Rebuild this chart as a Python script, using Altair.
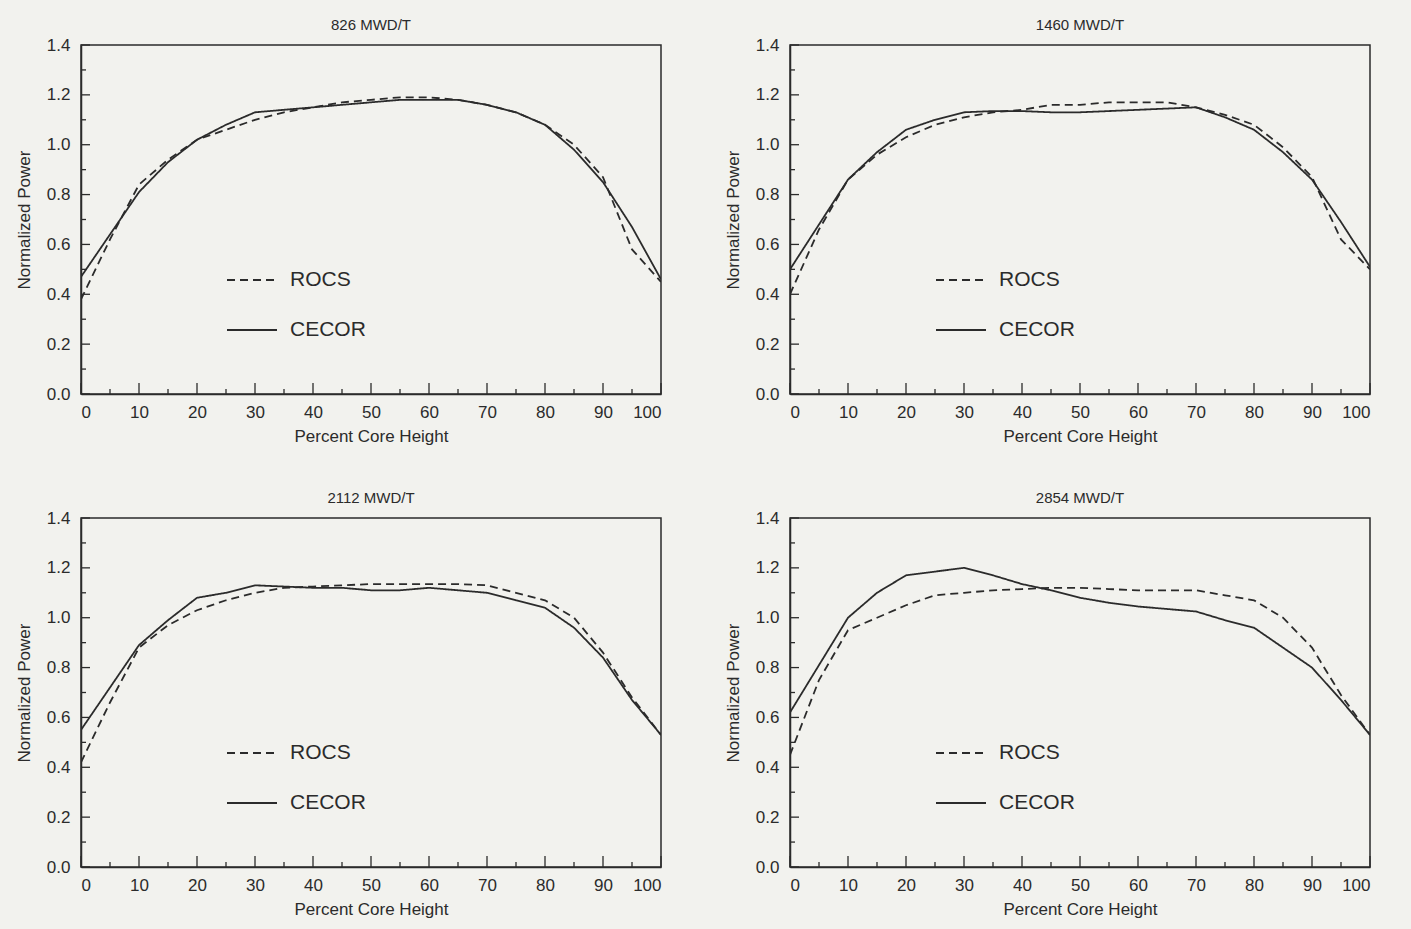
import altair as alt
import pandas as pd

# ---- data ----
heights = [0, 5, 10, 15, 20, 25, 30, 35, 40, 45, 50, 55, 60, 65, 70, 75, 80, 85, 90, 95, 100]

rocs_826 = [0.38, 0.62, 0.84, 0.94, 1.02, 1.06, 1.10, 1.13, 1.15, 1.17, 1.18, 1.19, 1.19, 1.18, 1.16, 1.13, 1.08, 1.00, 0.87, 0.58, 0.45]
cecor_826 = [0.47, 0.64, 0.81, 0.93, 1.02, 1.08, 1.13, 1.14, 1.15, 1.16, 1.17, 1.18, 1.18, 1.18, 1.16, 1.13, 1.08, 0.98, 0.85, 0.67, 0.46]

rocs_1460 = [0.40, 0.66, 0.86, 0.96, 1.03, 1.08, 1.11, 1.13, 1.14, 1.16, 1.16, 1.17, 1.17, 1.17, 1.15, 1.12, 1.08, 0.99, 0.87, 0.62, 0.50]
cecor_1460 = [0.50, 0.68, 0.86, 0.97, 1.06, 1.10, 1.13, 1.135, 1.135, 1.13, 1.13, 1.135, 1.14, 1.145, 1.15, 1.11, 1.06, 0.97, 0.86, 0.69, 0.51]

rocs_2112 = [0.42, 0.66, 0.88, 0.97, 1.03, 1.07, 1.10, 1.12, 1.125, 1.13, 1.135, 1.135, 1.135, 1.135, 1.13, 1.10, 1.07, 1.00, 0.86, 0.68, 0.53]
cecor_2112 = [0.55, 0.72, 0.89, 0.99, 1.08, 1.10, 1.13, 1.125, 1.12, 1.12, 1.11, 1.11, 1.12, 1.11, 1.10, 1.07, 1.04, 0.96, 0.84, 0.67, 0.53]

rocs_2854 = [0.45, 0.75, 0.95, 1.00, 1.05, 1.09, 1.10, 1.11, 1.115, 1.12, 1.12, 1.115, 1.11, 1.11, 1.11, 1.09, 1.07, 1.00, 0.88, 0.69, 0.53]
cecor_2854 = [0.62, 0.81, 1.00, 1.10, 1.17, 1.185, 1.20, 1.17, 1.135, 1.11, 1.08, 1.06, 1.045, 1.035, 1.025, 0.99, 0.96, 0.88, 0.80, 0.67, 0.53]

titles = ["826 MWD/T", "1460 MWD/T", "2112 MWD/T", "2854 MWD/T"]
series_names = ["ROCS", "CECOR"]

x_labels = [0, 10, 20, 30, 40, 50, 60, 70, 80, 90, 100]
x_minor = [5, 15, 25, 35, 45, 55, 65, 75, 85, 95]
y_labels = [0.0, 0.2, 0.4, 0.6, 0.8, 1.0, 1.2, 1.4]
y_minor = [0.1, 0.3, 0.5, 0.7, 0.9, 1.1, 1.3]

W, H = 580, 349
INK = "#2b2b2b"
FONT = "Liberation Sans"


def panel(title, rocs, cecor):
    rows = []
    for name, vals in zip(series_names, [rocs, cecor]):
        for h, v in zip(heights, vals):
            rows.append({"h": h, "p": v, "series": name})
    df = pd.DataFrame(rows)

    xscale = alt.Scale(domain=[0, 100], nice=False)
    yscale = alt.Scale(domain=[0, 1.4], nice=False)
    xaxis = alt.Axis(values=x_labels, title="Percent Core Height", ticks=False)
    yaxis = alt.Axis(values=y_labels, format=".1f", title="Normalized Power", ticks=False)

    lines = alt.Chart(df).mark_line(color=INK, strokeWidth=1.8, clip=True).encode(
        x=alt.X("h:Q", scale=xscale, axis=xaxis),
        y=alt.Y("p:Q", scale=yscale, axis=yaxis),
        strokeDash=alt.StrokeDash(
            "series:N",
            scale=alt.Scale(domain=series_names, range=[[8, 5], [1, 0]]),
            legend=alt.Legend(
                title=None, orient="none", legendX=145, legendY=209,
                symbolType="stroke", symbolSize=2500, symbolStrokeWidth=1.8,
                symbolStrokeColor=INK, labelFontSize=21, labelFont=FONT,
                labelColor=INK, rowPadding=14, labelOffset=12,
            ),
        ),
        order=alt.Order("h:Q"),
    )

    xmaj = alt.Chart(pd.DataFrame({"h": x_labels})).mark_rule(color=INK, strokeWidth=1.3).encode(
        x=alt.X("h:Q", scale=xscale, axis=xaxis), y=alt.value(H), y2=alt.value(H - 11))
    xmin = alt.Chart(pd.DataFrame({"h": x_minor})).mark_rule(color=INK, strokeWidth=1.3).encode(
        x=alt.X("h:Q", scale=xscale, axis=xaxis), y=alt.value(H), y2=alt.value(H - 5))
    ymaj = alt.Chart(pd.DataFrame({"p": y_labels})).mark_rule(color=INK, strokeWidth=1.3).encode(
        y=alt.Y("p:Q", scale=yscale, axis=yaxis), x=alt.value(0), x2=alt.value(9))
    ymin = alt.Chart(pd.DataFrame({"p": y_minor})).mark_rule(color=INK, strokeWidth=1.3).encode(
        y=alt.Y("p:Q", scale=yscale, axis=yaxis), x=alt.value(0), x2=alt.value(5))

    return alt.layer(lines, xmaj, xmin, ymaj, ymin).properties(
        width=W, height=H,
        title=alt.TitleParams(title, fontSize=15, font=FONT, fontWeight="normal", color=INK, offset=3),
    )


p1 = panel(titles[0], rocs_826, cecor_826)
p2 = panel(titles[1], rocs_1460, cecor_1460)
p3 = panel(titles[2], rocs_2112, cecor_2112)
p4 = panel(titles[3], rocs_2854, cecor_2854)

top = alt.hconcat(p1, p2, spacing=60).resolve_scale(strokeDash="independent").resolve_legend(strokeDash="independent")
bottom = alt.hconcat(p3, p4, spacing=60).resolve_scale(strokeDash="independent").resolve_legend(strokeDash="independent")

chart = alt.vconcat(top, bottom, spacing=45).resolve_scale(strokeDash="independent").resolve_legend(
    strokeDash="independent"
).configure(background="#f2f2ee").configure_view(
    stroke=INK, strokeWidth=1.5, fill="#f2f2ee"
).configure_axis(
    domainColor=INK, domainWidth=1.5, grid=False,
    labelFont=FONT, labelFontSize=17, labelColor=INK, labelPadding=10,
    titleFont=FONT, titleFontSize=17, titleFontWeight="normal", titleColor=INK, titlePadding=8,
).configure_axisY(titlePadding=13, labelPadding=11).properties(
    padding={"left": 14, "top": 17, "right": 39, "bottom": 12}
)

chart.save("out.html", embed_options={"renderer": "svg", "actions": False})
